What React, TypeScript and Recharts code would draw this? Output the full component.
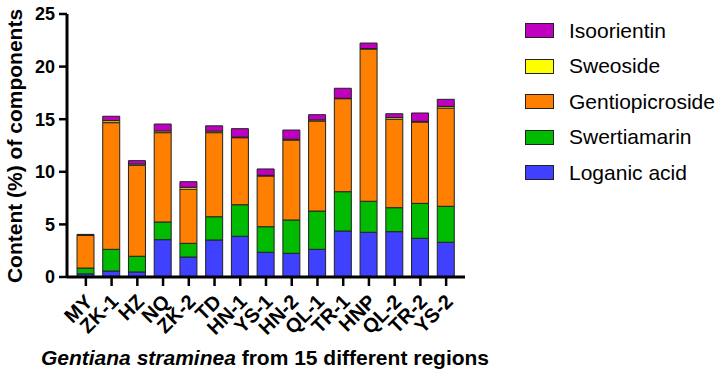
import { BarChart, Bar, XAxis, YAxis, Legend } from 'recharts';

const regions = ['MY', 'ZK-1', 'HZ', 'NQ', 'ZK-2', 'TD', 'HN-1', 'YS-1', 'HN-2', 'QL-1', 'TR-1', 'HNP', 'QL-2', 'TR-2', 'YS-2'];
const loganicAcid = [0.3, 0.57, 0.48, 3.55, 1.9, 3.52, 3.87, 2.35, 2.25, 2.63, 4.37, 4.25, 4.31, 3.68, 3.3];
const swertiamarin = [0.55, 2.06, 1.49, 1.68, 1.3, 2.21, 3.0, 2.43, 3.17, 3.64, 3.74, 2.95, 2.28, 3.32, 3.42];
const gentiopicroside = [3.1, 12.04, 8.65, 8.49, 5.14, 7.99, 6.37, 4.82, 7.6, 8.56, 8.84, 14.47, 8.4, 7.73, 9.34];
const sweroside = [0.05, 0.19, 0.12, 0.16, 0.19, 0.15, 0.06, 0.07, 0.08, 0.1, 0.05, 0.05, 0.16, 0.07, 0.16];
const isoorientin = [0.05, 0.42, 0.32, 0.66, 0.53, 0.5, 0.8, 0.6, 0.87, 0.5, 0.94, 0.52, 0.37, 0.79, 0.67];
const yTicks = [0, 5, 10, 15, 20, 25];

const data = regions.map((name, i) => ({
  name,
  loganic: loganicAcid[i],
  swertiamarin: swertiamarin[i],
  gentiopicroside: gentiopicroside[i],
  sweroside: sweroside[i],
  isoorientin: isoorientin[i],
}));

const series = [
  { key: 'loganic', name: 'Loganic acid', color: '#4040FF' },
  { key: 'swertiamarin', name: 'Swertiamarin', color: '#00BB00' },
  { key: 'gentiopicroside', name: 'Gentiopicroside', color: '#FF8000' },
  { key: 'sweroside', name: 'Sweoside', color: '#FFFF00' },
  { key: 'isoorientin', name: 'Isoorientin', color: '#C000C0' },
];

const font = '"Liberation Sans", Arial, sans-serif';

const XTick = ({ x, y, payload }: any) => (
  <g transform={`translate(${x + 3},${y + 10})`}>
    <text
      x={0}
      y={0}
      dy="0.35em"
      textAnchor="end"
      transform="rotate(-45)"
      fontFamily={font}
      fontWeight="bold"
      fontSize={20}
      fill="#000"
    >
      {payload.value}
    </text>
  </g>
);

const LegendBox = () => (
  <div style={{ fontFamily: font, fontSize: 21, color: '#000' }}>
    {[...series].reverse().map((s) => (
      <div key={s.key} style={{ display: 'flex', alignItems: 'center', height: 35.5 }}>
        <div
          style={{
            width: 27,
            height: 13,
            background: s.color,
            border: '1px solid #222',
            marginRight: 15,
          }}
        />
        <span>{s.name}</span>
      </div>
    ))}
  </div>
);

export default function App() {
  return (
    <div style={{ position: 'absolute', left: 0, top: 0, background: '#fff' }}>
      <BarChart
        width={724}
        height={383}
        data={data}
        margin={{ top: 14, right: 259, left: 0, bottom: 0 }}
        barSize={17}
      >
        <XAxis
          dataKey="name"
          interval={0}
          height={106}
          tick={<XTick />}
          tickSize={9}
          tickMargin={2}
          axisLine={{ stroke: '#000', strokeWidth: 3 }}
          tickLine={{ stroke: '#000', strokeWidth: 2.5 }}
          padding={{ left: 6, right: 6 }}
          label={{
            content: () => (
              <text x={265} y={365} textAnchor="middle" fontFamily={font} fontWeight="bold" fontSize={21} fill="#000">
                <tspan fontStyle="italic">Gentiana straminea</tspan>
                <tspan> from 15 different regions</tspan>
              </text>
            ),
          }}
        />
        <YAxis
          width={67}
          domain={[0, 25]}
          ticks={yTicks}
          interval={0}
          tickSize={8}
          tickMargin={4}
          axisLine={{ stroke: '#000', strokeWidth: 3 }}
          tickLine={{ stroke: '#000', strokeWidth: 2.5 }}
          tick={{ fontFamily: font, fontWeight: 'bold', fontSize: 18, fill: '#000' }}
          label={{
            content: () => (
              <text
                x={14}
                y={146}
                textAnchor="middle"
                dominantBaseline="central"
                transform="rotate(-90, 14, 146)"
                fontFamily={font}
                fontWeight="bold"
                fontSize={21}
                fill="#000"
              >
                Content (%) of components
              </text>
            ),
          }}
        />
        <Legend
          layout="vertical"
          align="center"
          verticalAlign="middle"
          content={<LegendBox />}
          wrapperStyle={{ left: 525, top: 13, width: 200 }}
        />
        {series.map((s) => (
          <Bar
            key={s.key}
            dataKey={s.key}
            name={s.name}
            stackId="a"
            fill={s.color}
            stroke="#222"
            strokeWidth={1}
            isAnimationActive={false}
          />
        ))}
      </BarChart>
    </div>
  );
}
